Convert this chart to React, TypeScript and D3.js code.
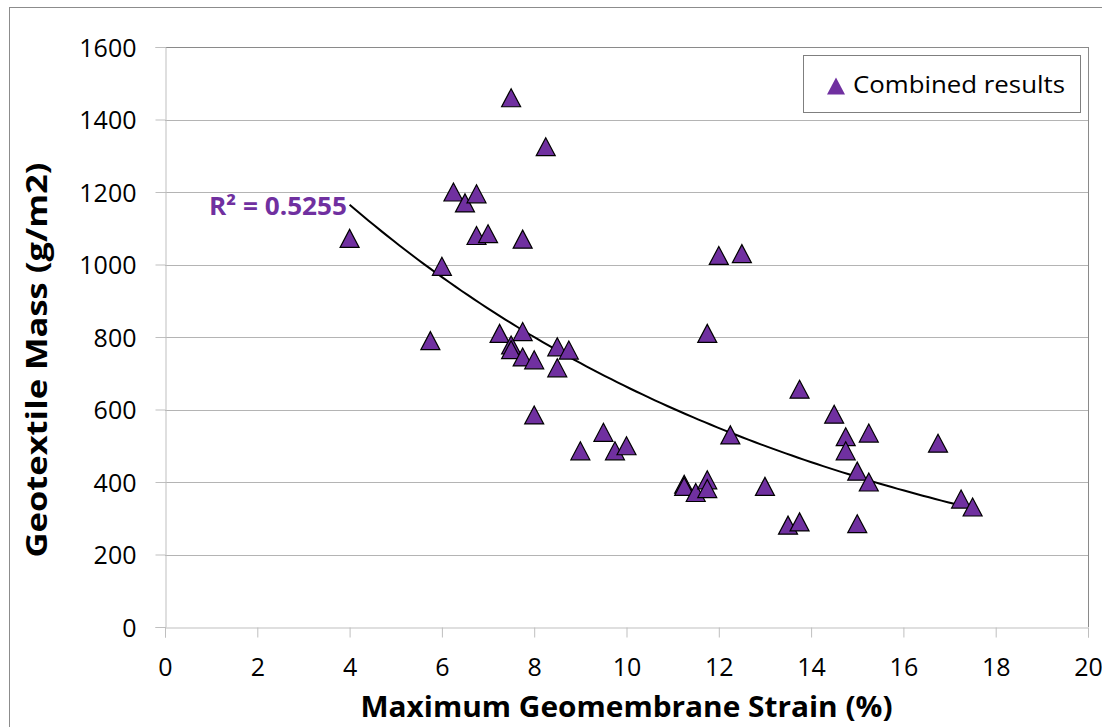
import React, { useEffect, useRef } from 'react';
import * as d3 from 'd3';

// Maximum geomembrane strain (%) and geotextile mass (g/m2)
const strain = [
  4, 5.75, 6, 6.25, 6.5, 6.75, 6.75, 7, 7.25, 7.5, 7.5, 7.5,
  7.75, 7.75, 7.75, 8, 8, 8.25, 8.5, 8.5, 8.75, 9, 9.5, 9.75,
  10, 11.25, 11.25, 11.5, 11.75, 11.75, 11.75, 12, 12.25, 12.5, 13, 13.5,
  13.75, 13.75, 14.5, 14.75, 14.75, 15, 15, 15.25, 15.25, 16.75, 17.25, 17.5,
];
const mass = [
  1072, 790, 995, 1200, 1170, 1195, 1080, 1085, 810, 1460, 778, 765,
  1070, 815, 745, 737, 585, 1325, 773, 715, 764, 486, 537, 486,
  500, 394, 388, 371, 810, 406, 382, 1025, 530, 1030, 388, 281,
  656, 290, 587, 525, 486, 430, 285, 535, 400, 507, 353, 331,
];
const xTicks = [0, 2, 4, 6, 8, 10, 12, 14, 16, 18, 20];
const yTicks = [0, 200, 400, 600, 800, 1000, 1200, 1400, 1600];
const seriesName = 'Combined results';
const r2Label = 'R² = 0.5255';

const W = 1102;
const H = 727;
const purple = '#7030A0';
const font = "'Open Sans', 'Noto Sans', sans-serif";

const App = () => {
  const svgRef = useRef<SVGSVGElement>(null);

  useEffect(() => {
    const svg = d3.select(svgRef.current);
    svg.selectAll('*').remove();

    const left = 165, right = 1088, top = 47, bottom = 627;

    const x = d3.scaleLinear().domain([0, 20]).range([left, right]);
    const y = d3.scaleLinear().domain([0, 1600]).range([bottom, top]);

    svg.append('rect').attr('width', W).attr('height', H).attr('fill', '#fff');
    // outer chart border (cut off at right / bottom)
    svg.append('rect')
      .attr('x', 9.5).attr('y', 7.5).attr('width', W + 20).attr('height', H + 20)
      .attr('fill', 'none').attr('stroke', '#8c8c8c').attr('stroke-width', 1);

    // gridlines
    svg.append('g')
      .selectAll('line')
      .data(yTicks.filter((d) => d > 0))
      .join('line')
      .attr('x1', left).attr('x2', right)
      .attr('y1', (d) => Math.round(y(d)) + 0.5).attr('y2', (d) => Math.round(y(d)) + 0.5)
      .attr('stroke', (d) => (d === 1600 ? '#8a8a8a' : '#b4b4b4'));

    // right plot border
    svg.append('line')
      .attr('x1', right + 0.5).attr('x2', right + 0.5).attr('y1', top).attr('y2', bottom)
      .attr('stroke', '#8a8a8a');

    // axes
    const yAxis = d3.axisLeft(y).tickValues(yTicks).tickSize(10).tickPadding(19).tickFormat((d) => String(d));
    const yg = svg.append('g').attr('transform', `translate(${left + 0.5},0)`).call(yAxis);
    const xAxis = d3.axisBottom(x).tickValues(xTicks).tickSize(10).tickPadding(20).tickFormat((d) => String(d));
    const xg = svg.append('g').attr('transform', `translate(0,${bottom + 0.5})`).call(xAxis);
    [yg, xg].forEach((g) => {
      g.select('.domain').attr('stroke', '#bfbfbf');
      g.selectAll('.tick line').attr('stroke', '#bfbfbf');
      g.selectAll('.tick text')
        .attr('font-family', font).attr('font-size', 25).attr('fill', '#000');
    });
    yg.selectAll('.tick text').attr('dy', '0.36em');
    xg.selectAll('.tick text').attr('dy', '0.72em');

    // exponential trendline fitted on ln(mass)
    const lx = strain;
    const ly = mass.map((m) => Math.log(m));
    const mx = d3.mean(lx) as number;
    const my = d3.mean(ly) as number;
    const b = d3.sum(lx, (v, i) => (v - mx) * (ly[i] - my)) / d3.sum(lx, (v) => (v - mx) ** 2);
    const a = Math.exp(my - b * mx);
    const [x0, x1] = d3.extent(strain) as [number, number];
    const samples = d3.range(0, 101).map((i) => x0 + ((x1 - x0) * i) / 100);
    svg.append('path')
      .datum(samples)
      .attr('d', d3.line<number>().x((d) => x(d)).y((d) => y(a * Math.exp(b * d))))
      .attr('fill', 'none').attr('stroke', '#000').attr('stroke-width', 2);

    // markers
    const tri = (w: number, h: number) => `M0,${-h / 2}L${w / 2},${h / 2}L${-w / 2},${h / 2}Z`;
    svg.append('g')
      .selectAll('path')
      .data(strain.map((s, i) => [s, mass[i]]))
      .join('path')
      .attr('transform', (d) => `translate(${x(d[0])},${y(d[1])})`)
      .attr('d', tri(19, 18))
      .attr('fill', purple).attr('stroke', '#000').attr('stroke-width', 1.2);

    // R² label
    svg.append('text')
      .attr('x', 209).attr('y', 215)
      .attr('font-family', font).attr('font-weight', 700).attr('font-size', 25)
      .attr('textLength', 138).attr('lengthAdjust', 'spacingAndGlyphs')
      .attr('fill', purple).text(r2Label);

    // legend
    const lg = svg.append('g');
    lg.append('rect')
      .attr('x', 803.5).attr('y', 55.5).attr('width', 277).attr('height', 57)
      .attr('fill', '#fff').attr('stroke', '#7f7f7f');
    lg.append('path')
      .attr('transform', 'translate(836,86)').attr('d', tri(18, 17)).attr('fill', purple);
    lg.append('text')
      .attr('x', 853).attr('y', 93)
      .attr('font-family', font).attr('font-size', 24).attr('fill', '#000')
      .attr('textLength', 212).attr('lengthAdjust', 'spacingAndGlyphs')
      .text(seriesName);

    // axis titles
    svg.append('text')
      .attr('x', (left + right) / 2).attr('y', 717).attr('text-anchor', 'middle')
      .attr('font-family', font).attr('font-weight', 700).attr('font-size', 28).attr('fill', '#000')
      .attr('textLength', 532).attr('lengthAdjust', 'spacingAndGlyphs')
      .text('Maximum Geomembrane Strain (%)');
    svg.append('text')
      .attr('transform', 'translate(47,360) rotate(-90)').attr('text-anchor', 'middle')
      .attr('font-family', font).attr('font-weight', 700).attr('font-size', 28).attr('fill', '#000')
      .attr('textLength', 395).attr('lengthAdjust', 'spacingAndGlyphs')
      .text('Geotextile Mass (g/m2)');
  }, []);

  return (
    <svg
      ref={svgRef}
      width={W}
      height={H}
      style={{ position: 'absolute', left: 0, top: 0, display: 'block' }}
    />
  );
};

export default App;
